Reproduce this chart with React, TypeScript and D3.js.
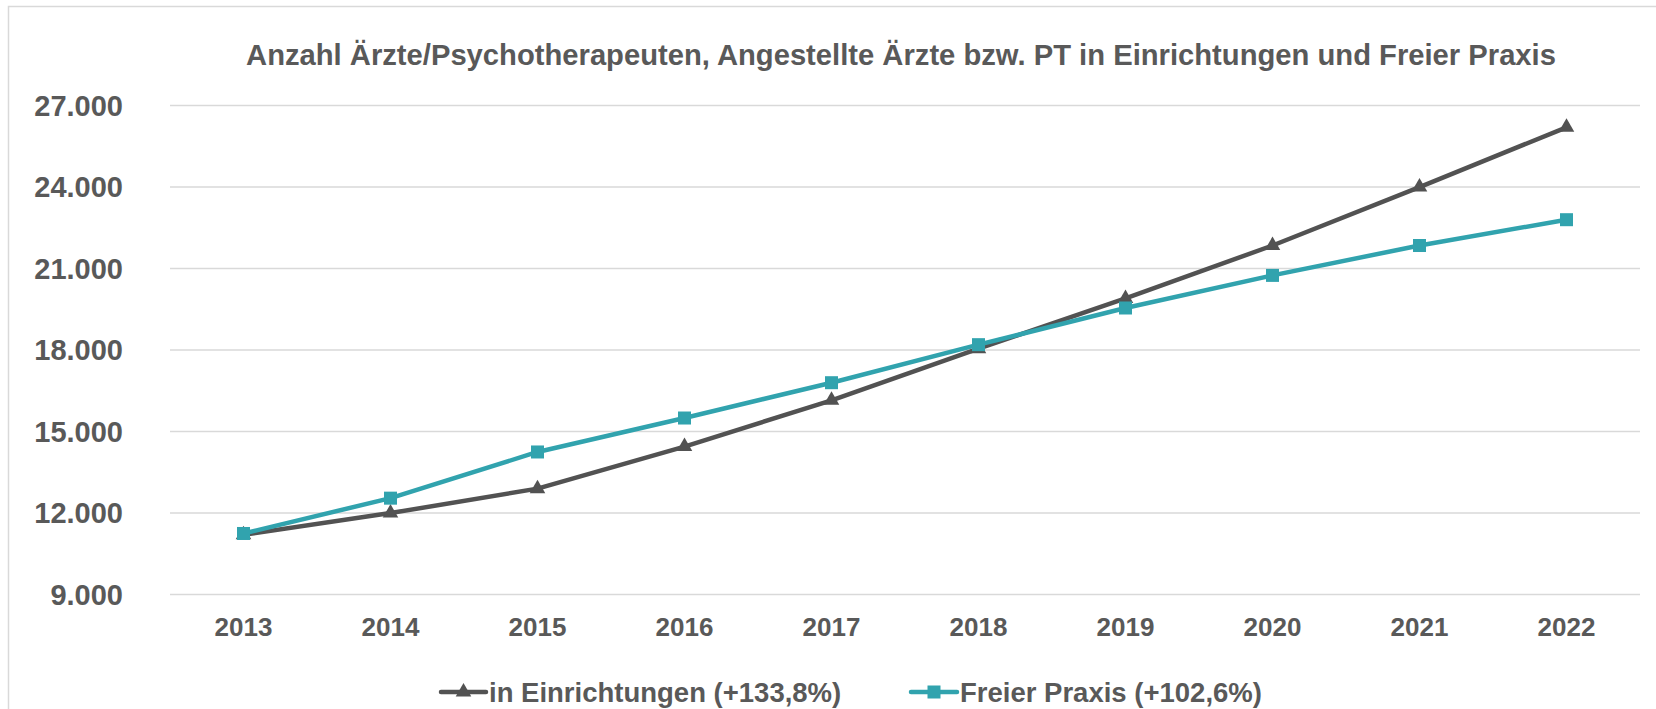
import { useEffect, useRef } from "react";
import * as d3 from "d3";

const years = ["2013", "2014", "2015", "2016", "2017", "2018", "2019", "2020", "2021", "2022"];
const einrichtungen = [11200, 12000, 12900, 14450, 16150, 18050, 19900, 21850, 24000, 26200];
const freiePraxis = [11250, 12550, 14250, 15500, 16800, 18200, 19550, 20750, 21850, 22800];
const yTicks = [9000, 12000, 15000, 18000, 21000, 24000, 27000];
const seriesNames = ["in Einrichtungen (+133,8%)", "Freier Praxis (+102,6%)"];
const title = "Anzahl Ärzte/Psychotherapeuten, Angestellte Ärzte bzw. PT in Einrichtungen und Freier Praxis";

const App = () => {
    const ref = useRef<SVGSVGElement | null>(null);

    useEffect(() => {
        const svg = d3.select(ref.current);
        svg.selectAll("*").remove();

        const width = 1656;
        const height = 709;
        const textColor = "#595959";
        const darkColor = "#525252";
        const tealColor = "#31A3AE";
        const font = "'Liberation Sans', Arial, sans-serif";

        const de = d3.formatLocale({ decimal: ",", thousands: ".", grouping: [3], currency: ["", " €"] });
        const fmt = de.format(",.0f");

        const x = d3.scaleBand().domain(years).range([170, 1640]);
        const y = d3.scaleLinear().domain([9000, 27000]).range([594.6, 105.6]);
        const cx = (d: string) => (x(d) as number) + x.bandwidth() / 2;

        // frame
        svg.append("rect")
            .attr("x", 8.5)
            .attr("y", 6.5)
            .attr("width", width + 20)
            .attr("height", height + 20)
            .attr("fill", "#ffffff")
            .attr("stroke", "#d9d9d9")
            .attr("stroke-width", 1.5);

        // title
        svg.append("text")
            .attr("x", 901)
            .attr("y", 65)
            .attr("text-anchor", "middle")
            .attr("fill", textColor)
            .attr("font-family", font)
            .attr("font-weight", "bold")
            .attr("font-size", "29.2px")
            .text(title);

        // gridlines
        svg.append("g")
            .selectAll("line")
            .data(yTicks)
            .enter()
            .append("line")
            .attr("x1", 170)
            .attr("x2", 1640)
            .attr("y1", d => y(d))
            .attr("y2", d => y(d))
            .attr("stroke", "#d9d9d9")
            .attr("stroke-width", 1.5);

        // y tick labels
        svg.append("g")
            .selectAll("text")
            .data(yTicks)
            .enter()
            .append("text")
            .attr("x", 123)
            .attr("y", d => y(d))
            .attr("dy", "0.35em")
            .attr("text-anchor", "end")
            .attr("fill", textColor)
            .attr("font-family", font)
            .attr("font-weight", "bold")
            .attr("font-size", "29px")
            .text(d => fmt(d));

        // x tick labels
        svg.append("g")
            .selectAll("text")
            .data(years)
            .enter()
            .append("text")
            .attr("x", d => cx(d))
            .attr("y", 636)
            .attr("text-anchor", "middle")
            .attr("fill", textColor)
            .attr("font-family", font)
            .attr("font-weight", "bold")
            .attr("font-size", "26px")
            .text(d => d);

        const line = d3.line<number>()
            .x((_, i) => cx(years[i]))
            .y(d => y(d));

        const triangle = d3.symbol().type(d3.symbolTriangle).size(105);

        // Einrichtungen
        svg.append("path")
            .datum(einrichtungen)
            .attr("fill", "none")
            .attr("stroke", darkColor)
            .attr("stroke-width", 4.5)
            .attr("stroke-linejoin", "round")
            .attr("d", line);

        svg.append("g")
            .selectAll("path")
            .data(einrichtungen)
            .enter()
            .append("path")
            .attr("transform", (d, i) => `translate(${cx(years[i])},${y(d)})`)
            .attr("d", triangle)
            .attr("fill", darkColor);

        // Freier Praxis
        svg.append("path")
            .datum(freiePraxis)
            .attr("fill", "none")
            .attr("stroke", tealColor)
            .attr("stroke-width", 4.5)
            .attr("stroke-linejoin", "round")
            .attr("d", line);

        svg.append("g")
            .selectAll("rect")
            .data(freiePraxis)
            .enter()
            .append("rect")
            .attr("x", (_, i) => cx(years[i]) - 6.5)
            .attr("y", d => y(d) - 6.5)
            .attr("width", 13)
            .attr("height", 13)
            .attr("fill", tealColor);

        // legend
        const legendY = 692;
        const legend = [
            { name: seriesNames[0], color: darkColor, x1: 441, x2: 486, tx: 489, marker: "triangle" },
            { name: seriesNames[1], color: tealColor, x1: 911, x2: 957, tx: 960, marker: "square" },
        ];
        const lg = svg.append("g");
        legend.forEach(item => {
            lg.append("line")
                .attr("x1", item.x1)
                .attr("x2", item.x2)
                .attr("y1", legendY)
                .attr("y2", legendY)
                .attr("stroke", item.color)
                .attr("stroke-width", 4.5)
                .attr("stroke-linecap", "round");
            const mx = (item.x1 + item.x2) / 2;
            if (item.marker === "triangle") {
                lg.append("path")
                    .attr("transform", `translate(${mx},${legendY})`)
                    .attr("d", triangle)
                    .attr("fill", item.color);
            } else {
                lg.append("rect")
                    .attr("x", mx - 6.5)
                    .attr("y", legendY - 6.5)
                    .attr("width", 13)
                    .attr("height", 13)
                    .attr("fill", item.color);
            }
            lg.append("text")
                .attr("x", item.tx)
                .attr("y", legendY)
                .attr("dy", "0.36em")
                .attr("fill", textColor)
                .attr("font-family", font)
                .attr("font-weight", "bold")
                .attr("font-size", "27.5px")
                .text(item.name);
        });
    }, []);

    return (
        <svg
            ref={ref}
            width={1656}
            height={709}
            style={{ position: "absolute", left: 0, top: 0, display: "block" }}
        />
    );
};

export default App;
